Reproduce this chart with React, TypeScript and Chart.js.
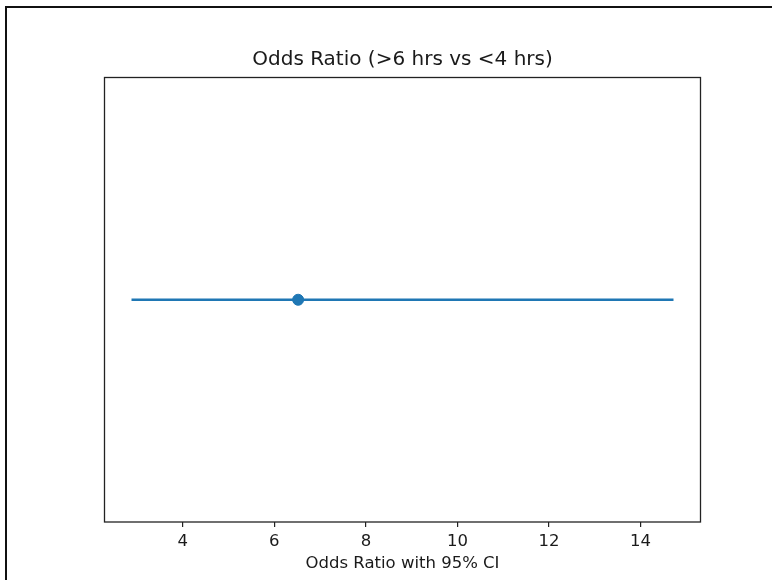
import React, { useEffect, useRef } from "react";
import { Chart, registerables } from "chart.js";

Chart.register(...registerables);

const TITLE = "Odds Ratio (>6 hrs vs <4 hrs)";
const X_LABEL = "Odds Ratio with 95% CI";
const ODDS_RATIO = [6.52];
const CI_LOWER = [2.88];
const CI_UPPER = [14.72];
const X_TICKS = [4, 6, 8, 10, 12, 14];
const X_MIN = 2.29;
const X_MAX = 15.31;

const framePlugin = {
  id: "frame",
  afterDraw(chart: any) {
    const { ctx, chartArea } = chart;
    ctx.save();
    // outer figure border (left and top)
    ctx.fillStyle = "#111";
    ctx.fillRect(5, 6, 2, 574);
    ctx.fillRect(5, 6, 767, 2);
    // axes frame
    ctx.strokeStyle = "#222";
    ctx.lineWidth = 1.3;
    ctx.strokeRect(chartArea.left, chartArea.top, chartArea.right - chartArea.left, chartArea.bottom - chartArea.top);
    ctx.restore();
  },
};

export default function App() {
  const ref = useRef<HTMLCanvasElement>(null);
  useEffect(() => {
    if (!ref.current) return;
    const ciData: any[] = [];
    CI_LOWER.forEach((lo, i) => {
      ciData.push({ x: lo, y: i });
      ciData.push({ x: CI_UPPER[i], y: i });
    });
    const chart = new Chart(ref.current, {
      type: "scatter",
      data: {
        datasets: [
          {
            type: "line",
            data: ciData,
            borderColor: "#1f77b4",
            borderWidth: 2.6,
            pointRadius: 0,
            showLine: true,
            order: 2,
          } as any,
          {
            data: ODDS_RATIO.map((v, i) => ({ x: v, y: i })),
            backgroundColor: "#1f77b4",
            borderColor: "#1f77b4",
            pointRadius: 5.5,
            order: 1,
          },
        ],
      },
      options: {
        responsive: false,
        animation: false,
        layout: { padding: { left: 104.5, right: 71.5, top: 0, bottom: 0 } },
        plugins: {
          legend: { display: false },
          tooltip: { enabled: false },
          title: {
            display: true,
            text: TITLE,
            color: "#1a1a1a",
            font: { family: "DejaVu Sans", size: 20, weight: "normal" },
            padding: { top: 48, bottom: 5.5 },
          },
        },
        scales: {
          x: {
            type: "linear",
            min: X_MIN,
            max: X_MAX,
            afterBuildTicks: (s: any) => {
              s.ticks = X_TICKS.map((v) => ({ value: v }));
            },
            afterFit: (s: any) => {
              s.height = 58;
            },
            border: { display: false },
            grid: {
              drawOnChartArea: false,
              drawTicks: true,
              tickLength: 5,
              color: "#222",
              lineWidth: 1.2,
            },
            ticks: {
              color: "#1a1a1a",
              font: { family: "DejaVu Sans", size: 16.5 },
              padding: 5,
              maxRotation: 0,
              autoSkip: false,
            },
            title: {
              display: true,
              text: X_LABEL,
              color: "#1a1a1a",
              font: { family: "DejaVu Sans", size: 16.5 },
              padding: { top: 2, bottom: 6.6 },
            },
          },
          y: {
            type: "linear",
            min: -1,
            max: 1,
            display: false,
          },
        },
      },
      plugins: [framePlugin],
    });
    return () => chart.destroy();
  }, []);
  return (
    <div style={{ position: "fixed", left: 0, top: 0, width: 772, height: 580, background: "#fff" }}>
      <canvas ref={ref} width={772} height={580} style={{ display: "block" }} />
    </div>
  );
}
